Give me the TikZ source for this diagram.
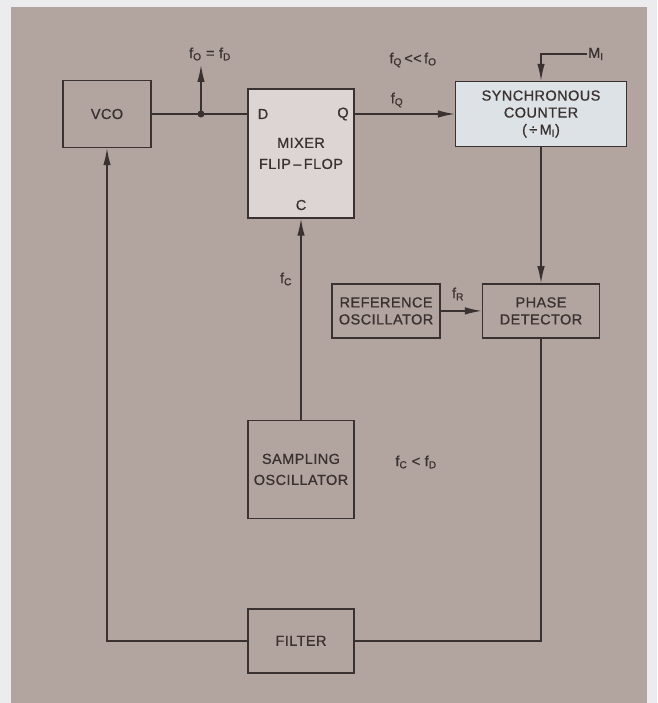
\documentclass[tikz,border=0pt]{standalone}
\usepackage{fontspec}
\setmainfont[LetterSpace=3,FakeBold=0.8]{Liberation Sans}
\definecolor{pllMarco}{HTML}{ECEBEE}
\definecolor{pllPanel}{HTML}{B2A49F}
\definecolor{pllTinta}{HTML}{3A3230}
\definecolor{pllGris}{HTML}{DCD5D4}
\definecolor{pllAzul}{HTML}{DDE2E6}
\usetikzlibrary{
	arrows.meta,
	positioning,
	calc
}
\tikzset{
	bloque/.style={
		draw=pllTinta,
		line width=1.4pt,
		align=center,
		inner sep=0pt,
		text=pllTinta,
		font=\fontsize{14.5}{17}\selectfont
	},
	bloqueGris/.style={
		bloque,
		fill=pllGris
	},
	bloqueAzul/.style={
		bloque,
		fill=pllAzul
	},
	rotulo/.style={
		inner sep=1pt,
		text=pllTinta,
		font=\fontsize{14.5}{17}\selectfont
	},
	linea/.style={
		line width=1.4pt,
		pllTinta
	},
	flecha/.style={
		-{Latex[length=17pt,width=7.5pt]},
		line width=1.4pt,
		pllTinta
	}
}
\newcommand{\Sub}[2]{#1\textsubscript{#2}}

\begin{document}
\begin{tikzpicture}[x=1pt,y=-1pt]
		\fill[pllMarco] (0,0) rectangle (657,703);
		\fill[pllPanel] (11,7) rectangle (647,703);
		\useasboundingbox (0,0) rectangle (657,703);
		% bloques
		\node[bloque, minimum width=88pt, minimum height=67pt] (vco) at (107,114) {VCO};
		\node[bloqueGris, minimum width=106pt, minimum height=129pt] (mezclador) at (301,153.5) {MIXER\\[4pt]FLIP\,--\,FLOP};
		\node[bloqueAzul, minimum width=171pt, minimum height=65pt] (contador) at (541,114) {SYNCHRONOUS\\COUNTER\\(\,÷\,\Sub{M}{I})};
		\node[bloque, minimum width=117pt, minimum height=54pt, below=136pt of contador] (fase) {PHASE\\DETECTOR};
		\node[bloque, minimum width=108pt, minimum height=54pt, left=41pt of fase] (referencia) {REFERENCE\\OSCILLATOR};
		\node[bloque, minimum width=106pt, minimum height=98pt, below=201pt of mezclador] (muestreo) {SAMPLING\\[4pt]OSCILLATOR};
		\node[bloque, minimum width=106pt, minimum height=64pt, below=89pt of muestreo] (filtro) {FILTER};
		% entradas del flip-flop
		\node[rotulo] (d) at (263,114) {D};
		\node[rotulo] (q) at (343,114) {Q};
		\node[rotulo] (c) at (301,205) {C};
		% conexiones
		\coordinate (nudo) at (201,114);
		\coordinate (salida) at (201,65);
		\draw[linea] (vco) -- (nudo) -- (mezclador.west |- nudo);
		\fill[pllTinta] (nudo) circle (3.5pt);
		\draw[flecha] (nudo) -- (salida);
		\draw[flecha] (mezclador.east |- nudo) -- (contador.west |- nudo);
		\node[rotulo, anchor=west] (mi) at (587,54) {\Sub{M}{I}};
		\draw[flecha] (mi.west) -| (contador.north);
		\draw[flecha] (contador) -- (fase);
		\draw[flecha] (referencia) -- (fase);
		\draw[flecha] (muestreo.north) -- (muestreo.north |- mezclador.south);
		\draw[linea] (fase) |- (filtro);
		\draw[flecha] (filtro) -| (vco);
		% frecuencias
		\node[rotulo] (fofd) at (210,54) {\Sub{f}{O} = \Sub{f}{D}};
		\node[rotulo] (fqfo) at (413,60) {\Sub{f}{Q}\,<{}<\,\Sub{f}{O}};
		\node[rotulo] (fq) at (397,100) {\Sub{f}{Q}};
		\node[rotulo] (fr) at (458,294) {\Sub{f}{R}};
		\node[rotulo] (fc) at (286,279) {\Sub{f}{C}};
		\node[rotulo] (fcfd) at (416,462) {\Sub{f}{C} < \Sub{f}{D}};
	\end{tikzpicture}
\end{document}
